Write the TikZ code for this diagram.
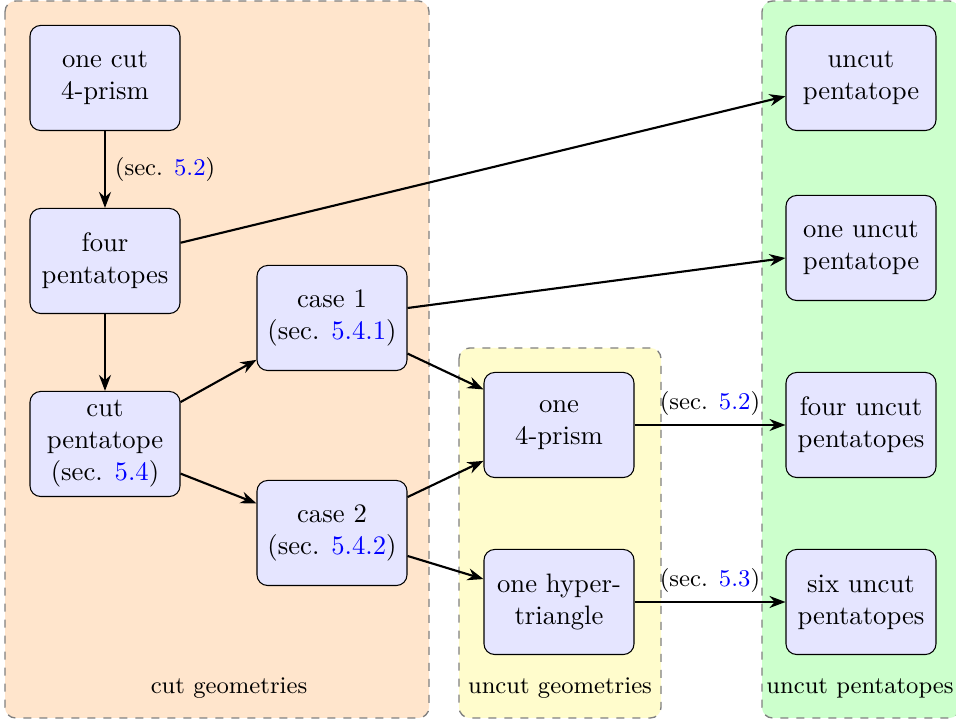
\documentclass[tikz,border=0pt]{standalone}
\usetikzlibrary{arrows.meta}
\begin{document}
\begin{tikzpicture}[x=0.375pt,y=-0.375pt,
  box/.style={draw=black, rounded corners=4pt, fill=blue!10, align=center,
    minimum width=56.25pt, minimum height=39.4pt, inner sep=2pt},
  arr/.style={thick, -{Stealth[length=6pt,width=4.5pt]}},
  lbl/.style={font=\small},
  bgbox/.style={draw=gray, dashed, rounded corners=4pt, line width=0.5pt},
  grp/.style={inner sep=0pt, font=\small}]
\useasboundingbox (0,0) rectangle (956,721);
% backgrounds
\draw[bgbox, fill=orange!20] (5,1) rectangle (429,718);
\draw[bgbox, fill=yellow!20] (459,348) rectangle (661,718);
\draw[bgbox, fill=green!20] (762,1) rectangle (960,718);
\node[grp] (gcut) at (229,688) {cut geometries};
\node[grp] (gunc) at (560,688) {uncut geometries};
\node[grp] (gpen) at (860,688) {uncut pentatopes};
% nodes
\node[box] (ocp) at (105,78) {one cut\\4-prism};
\node[box] (fp) at (105,261) {four\\pentatopes};
\node[box] (cp) at (105,444) {cut\\pentatope\\(sec. \textcolor{blue}{5.4})};
\node[box] (c1) at (332,318) {case 1\\(sec. \textcolor{blue}{5.4.1})};
\node[box] (c2) at (332,533) {case 2\\(sec. \textcolor{blue}{5.4.2})};
\node[box] (op) at (559,425) {one\\4-prism};
\node[box] (oh) at (559,602) {one hyper-\\triangle};
\node[box] (up) at (861,78) {uncut\\pentatope};
\node[box] (oup) at (861,248) {one uncut\\pentatope};
\node[box] (fup) at (861,425) {four uncut\\pentatopes};
\node[box] (sup) at (861,602) {six uncut\\pentatopes};
% connectors
\draw[arr] (ocp) -- node[lbl, right] {(sec. \textcolor{blue}{5.2})} (fp);
\draw[arr] (fp) -- (cp);
\draw[arr] (fp) -- (up);
\draw[arr] (cp) -- (c1);
\draw[arr] (cp) -- (c2);
\draw[arr] (c1) -- (oup);
\draw[arr] (c1) -- (op);
\draw[arr] (c2) -- (op);
\draw[arr] (c2) -- (oh);
\draw[arr] (op) -- node[lbl, above] {(sec. \textcolor{blue}{5.2})} (fup);
\draw[arr] (oh) -- node[lbl, above] {(sec. \textcolor{blue}{5.3})} (sup);
\end{tikzpicture}
\end{document}
